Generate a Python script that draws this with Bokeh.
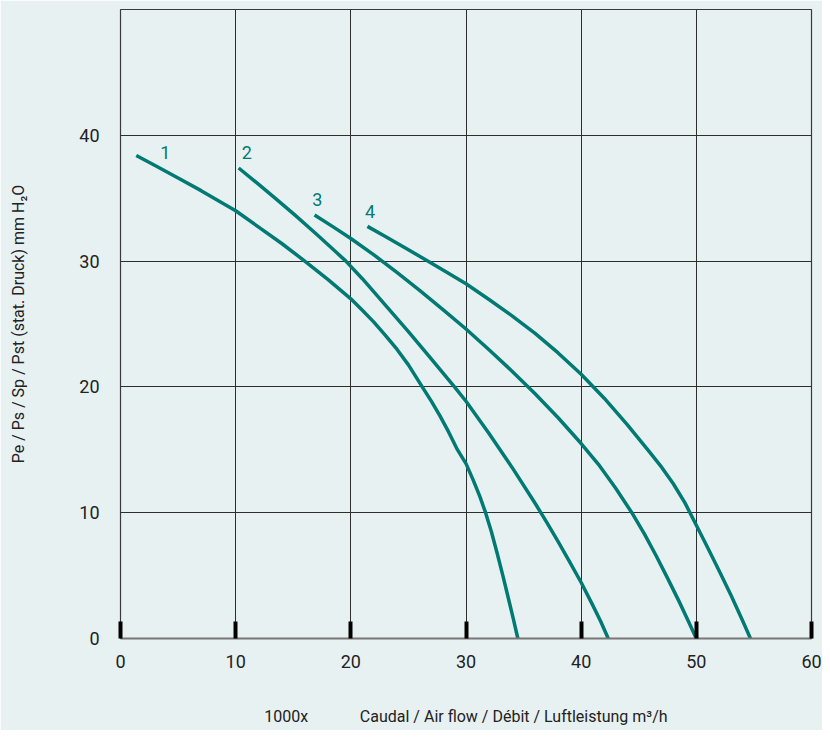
from bokeh.plotting import figure
from bokeh.models import Range1d, FixedTicker, ColumnDataSource
from bokeh.core.properties import value
from bokeh.embed import file_html
from bokeh.resources import INLINE

# ---- data (flow in 1000 m3/h, pressure in mm H2O) ----
q1 = [1.37, 3, 5, 7, 8.5, 10, 12, 14, 16, 18, 20, 21, 22, 23, 24, 25, 26.2, 27,
      27.74, 28.5, 29.2, 30, 30.6, 31.2, 31.7, 32.2, 32.7, 33.2, 33.6, 34.1, 34.5]
p1 = [38.4, 37.6, 36.6, 35.6, 34.8, 34.0, 32.7, 31.4, 30.0, 28.55, 27.0, 26.1,
      25.15, 24.1, 23.0, 21.75, 20.0, 18.85, 17.7, 16.4, 15.1, 13.9, 12.65, 11.3,
      10.0, 8.5, 6.8, 5.0, 3.5, 1.6, 0]

q2 = [10.26, 12, 13.5, 15.13, 17, 18.5, 19.57, 21, 23, 25, 27, 29, 30, 32, 34,
      36, 37, 38, 39, 40, 41, 41.7, 42.35]
p2 = [37.4, 36.1, 34.95, 33.67, 32.15, 30.9, 30.0, 28.6, 26.5, 24.4, 22.2, 20.0,
      18.86, 16.3, 13.6, 10.75, 9.25, 7.7, 6.1, 4.45, 2.65, 1.35, 0]

q3 = [16.85, 18.5, 20, 22, 24, 26, 28, 30, 32, 34, 36, 38, 40, 41.5, 43, 44.4,
      45.5, 46.5, 47.5, 48.5, 49.3, 50.0]
p3 = [33.67, 32.7, 31.8, 30.5, 29.1, 27.65, 26.15, 24.6, 22.95, 21.25, 19.45,
      17.55, 15.5, 13.85, 11.95, 10.0, 8.3, 6.6, 4.8, 2.95, 1.4, 0]

q4 = [21.44, 23, 25, 26.6, 28, 30, 32, 34, 36, 38, 40, 42, 44, 46, 47, 48, 49,
      50, 51, 52, 53, 54, 54.7]
p4 = [32.76, 31.95, 30.9, 30.05, 29.3, 28.2, 26.95, 25.65, 24.25, 22.7, 21.0,
      19.1, 17.0, 14.75, 13.6, 12.3, 10.8, 9.0, 7.2, 5.35, 3.45, 1.45, 0]

curve_names = ["1", "2", "3", "4"]
name_x = [3.9, 10.97, 17.08, 21.67]
name_y = [38.66, 38.66, 34.9, 33.95]

x_ticks = [0, 10, 20, 30, 40, 50, 60]
y_ticks = [0, 10, 20, 30, 40]
y_grid = [10, 20, 30, 40, 50]

NBSP = "\u00a0"
x_title = "1000x" + NBSP * 13 + "Caudal / Air flow / Débit / Luftleistung m³/h"
y_title = "Pe / Ps / Sp / Pst (stat. Druck) mm H₂O"

# ---- style ----
BG = "#e8f1f2"
TEAL = "#007a72"
INK = "#222222"
FONT = "Roboto"

p = figure(width=822, height=730, output_backend="svg", toolbar_location=None,
           x_range=Range1d(0, 60), y_range=Range1d(0, 50),
           min_border_left=120, min_border_right=11, min_border_top=9,
           min_border_bottom=92)
p.background_fill_color = BG
p.border_fill_color = BG
p.outline_line_color = "#3a3a3a"
p.outline_line_width = 1.2

# grid
p.xgrid.ticker = FixedTicker(ticks=x_ticks)
p.ygrid.ticker = FixedTicker(ticks=y_grid)
p.xgrid.grid_line_color = "#2e2e2e"
p.ygrid.grid_line_color = "#2e2e2e"
p.xgrid.grid_line_width = 1
p.ygrid.grid_line_width = 1

# x axis
xa = p.xaxis[0]
xa.ticker = FixedTicker(ticks=x_ticks)
xa.axis_line_color = "#777777"
xa.axis_line_width = 2
xa.major_tick_in = 17
xa.major_tick_out = 0
xa.major_tick_line_width = 4
xa.major_tick_line_color = "black"
xa.minor_tick_line_color = None
xa.major_label_standoff = 16
xa.major_label_text_font = FONT
xa.major_label_text_font_size = "18px"
xa.major_label_text_color = INK
xa.axis_label = x_title
xa.axis_label_text_font = FONT
xa.axis_label_text_font_size = "16px"
xa.axis_label_text_font_style = "normal"
xa.axis_label_text_color = INK
xa.axis_label_standoff = 36

# y axis
ya = p.yaxis[0]
ya.ticker = FixedTicker(ticks=y_ticks)
ya.axis_line_color = None
ya.major_tick_line_color = None
ya.minor_tick_line_color = None
ya.major_label_standoff = 15
ya.major_label_text_font = FONT
ya.major_label_text_font_size = "18px"
ya.major_label_text_color = INK
ya.axis_label = y_title
ya.axis_label_text_font = FONT
ya.axis_label_text_font_size = "16px"
ya.axis_label_text_font_style = "normal"
ya.axis_label_text_color = INK
ya.axis_label_standoff = 48

# curves
for qs, ps in [(q1, p1), (q2, p2), (q3, p3), (q4, p4)]:
    p.line(qs, ps, line_color=TEAL, line_width=3.5, line_join="round")

src = ColumnDataSource(dict(x=name_x, y=name_y, t=curve_names))
p.text(x="x", y="y", text="t", source=src, text_color=TEAL,
       text_font=value(FONT), text_font_size="18px",
       text_align="center", text_baseline="middle")

open("out.html", "w").write(file_html(p, INLINE))
